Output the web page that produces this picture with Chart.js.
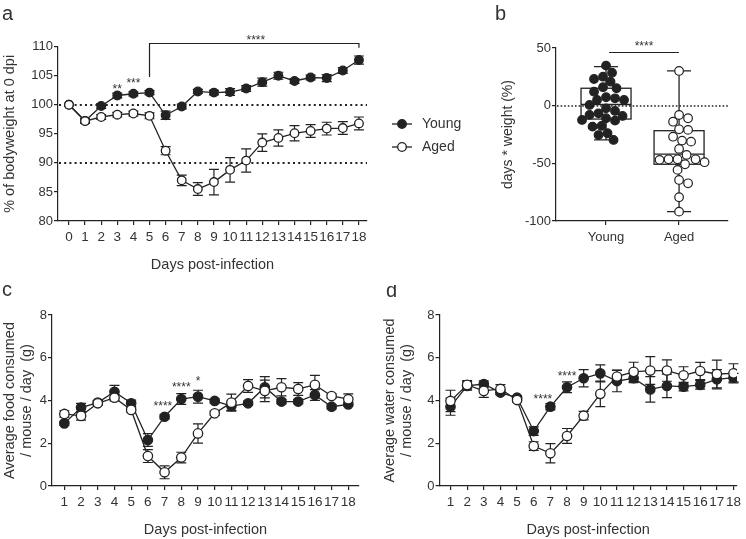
<!DOCTYPE html>
<html lang="en">
<head>
  <meta charset="UTF-8" />
  <title>Weight and intake after infection</title>
  <script src="https://cdn.jsdelivr.net/npm/chart.js"></script>
  <style>
    body { margin: 0; background: #fff; }
    .figure { position: relative; width: 746px; height: 539px; }
    .figure canvas { position: absolute; }
  </style>
</head>
<body>
  <div class="figure">
    <canvas id="weightChart" width="480" height="285" style="left:0;top:0"></canvas>
    <canvas id="aucChart" width="266" height="285" style="left:480px;top:0"></canvas>
    <canvas id="foodChart" width="380" height="254" style="left:0;top:285px"></canvas>
    <canvas id="waterChart" width="366" height="254" style="left:380px;top:285px"></canvas>
  </div>
  <script>
    const INK = '#222';
    const TEXT = '#333';
    const FONT = "'Liberation Sans', Arial, Helvetica, sans-serif";

    // panel a - body weight, % of day 0
    const weightDays = [0, 1, 2, 3, 4, 5, 6, 7, 8, 9, 10, 11, 12, 13, 14, 15, 16, 17, 18];
    const youngWeight = [100, 97.2, 99.8, 101.6, 101.9, 102.1, 98.2, 99.7, 102.3, 102.1, 102.2, 102.8, 103.9, 105.0, 104.1, 104.7, 104.6, 105.9, 107.7];
    const youngWeightSem = [0, 0.4, 0.4, 0.4, 0.35, 0.35, 0.7, 0.4, 0.35, 0.4, 0.6, 0.5, 0.7, 0.6, 0.4, 0.4, 0.6, 0.5, 0.7];
    const agedWeight = [100, 97.2, 97.9, 98.3, 98.5, 98.1, 92.1, 87.0, 85.5, 86.7, 88.8, 90.4, 93.5, 94.3, 95.1, 95.5, 95.9, 96.0, 96.8];
    const agedWeightSem = [0, 0.4, 0.4, 0.4, 0.4, 0.5, 0.7, 0.9, 1.1, 2.2, 2.1, 2.0, 1.5, 1.4, 1.3, 1.1, 1.1, 1.1, 1.1];
    const weightTicks = [80, 85, 90, 95, 100, 105, 110];
    const weightRefs = [100, 90];

    // panel b - days * weight per mouse
    const groups = ['Young', 'Aged'];
    const youngAuc = [34.7, 28.6, 25.1, 23.1, 20.8, 16, 15.1, 12.1, 7.3, 6.4, 4.9, 4.9, 0.6, -2.3, -4.6, -6.6, -8, -8.9, -10.9, -12.4, -13, -17.6, -18.2, -23.9, -25.5, -29.7];
    const agedAuc = [30.1, -8.1, -10.9, -13.9, -20.5, -21, -26.9, -30.3, -31.2, -37.5, -42.7, -46.5, -46.5, -46.5, -47, -49, -50.8, -55.7, -64.4, -67.3, -79.4, -91.9];
    const boxMin = [-29.7, -91.9];
    const boxQ1 = [-11.6, -50.8];
    const boxMedian = [1, -42.1];
    const boxQ3 = [15.1, -21.7];
    const boxMax = [33.8, 30.1];
    const aucTicks = [-100, -50, 0, 50];

    // panels c, d - intake per mouse per day
    const intakeDays = [1, 2, 3, 4, 5, 6, 7, 8, 9, 10, 11, 12, 13, 14, 15, 16, 17, 18];
    const youngFood = [2.93, 3.67, 3.9, 4.41, 3.87, 2.15, 3.24, 4.07, 4.18, 3.98, 3.74, 3.87, 4.62, 3.95, 3.95, 4.26, 3.71, 3.82];
    const youngFoodSem = [0.1, 0.2, 0.1, 0.3, 0.15, 0.3, 0.1, 0.25, 0.3, 0.1, 0.2, 0.1, 0.5, 0.1, 0.1, 0.25, 0.1, 0.1];
    const agedFood = [3.37, 3.28, 3.87, 4.13, 3.56, 1.4, 0.64, 1.33, 2.46, 3.4, 3.9, 4.68, 4.45, 4.62, 4.54, 4.73, 4.21, 4.06];
    const agedFoodSem = [0.15, 0.2, 0.1, 0.15, 0.1, 0.3, 0.3, 0.25, 0.45, 0.1, 0.4, 0.3, 0.5, 0.4, 0.3, 0.45, 0.1, 0.25];
    const youngWater = [3.71, 4.68, 4.77, 4.37, 4.13, 2.57, 3.71, 4.62, 5.04, 5.27, 4.91, 5.04, 4.52, 4.68, 4.65, 4.73, 4.99, 5.07];
    const youngWaterSem = [0.4, 0.2, 0.15, 0.1, 0.1, 0.2, 0.15, 0.25, 0.4, 0.4, 0.5, 0.2, 0.6, 0.55, 0.2, 0.2, 0.45, 0.2];
    const agedWater = [3.98, 4.73, 4.45, 4.54, 4.02, 1.87, 1.53, 2.34, 3.29, 4.31, 5.12, 5.34, 5.4, 5.4, 5.18, 5.38, 5.24, 5.27];
    const agedWaterSem = [0.5, 0.2, 0.3, 0.2, 0.1, 0.2, 0.45, 0.35, 0.2, 0.6, 0.3, 0.45, 0.65, 0.5, 0.4, 0.4, 0.65, 0.45];
    const intakeTicks = [0, 2, 4, 6, 8];

    Chart.defaults.font.family = FONT;
    Chart.defaults.color = TEXT;

    // error bars (sem) under the markers
    const errorBars = {
      id: 'errorBars',
      beforeDatasetsDraw(chart) {
        const { ctx, scales: { x, y } } = chart;
        ctx.save();
        ctx.strokeStyle = INK;
        ctx.lineWidth = 1.2;
        chart.data.datasets.forEach(ds => {
          if (!ds.errors) return;
          ds.data.forEach((p, i) => {
            const e = ds.errors[i];
            if (!e) return;
            const px = x.getPixelForValue(p.x);
            const top = y.getPixelForValue(p.y + e);
            const bot = y.getPixelForValue(p.y - e);
            ctx.beginPath();
            ctx.moveTo(px, top); ctx.lineTo(px, bot);
            ctx.moveTo(px - 5, top); ctx.lineTo(px + 5, top);
            ctx.moveTo(px - 5, bot); ctx.lineTo(px + 5, bot);
            ctx.stroke();
          });
        });
        ctx.restore();
      }
    };

    // dotted reference lines across the plot
    const refLines = {
      id: 'refLines',
      beforeDatasetsDraw(chart, args, opts) {
        if (!opts.values) return;
        const { ctx, chartArea, scales: { y } } = chart;
        ctx.save();
        ctx.strokeStyle = INK;
        ctx.lineWidth = opts.width;
        ctx.setLineDash(opts.dash);
        opts.values.forEach(v => {
          const py = Math.round(y.getPixelForValue(v));
          ctx.beginPath();
          ctx.moveTo(chartArea.left + 1, py);
          ctx.lineTo(chartArea.right, py);
          ctx.stroke();
        });
        ctx.restore();
      }
    };

    // box and whiskers for panel b
    const boxes = {
      id: 'boxes',
      beforeDatasetsDraw(chart) {
        const { ctx, scales: { x, y } } = chart;
        ctx.save();
        ctx.strokeStyle = INK;
        ctx.lineWidth = 1.3;
        groups.forEach((g, i) => {
          const cx = x.getPixelForValue(i + 1);
          const yq1 = y.getPixelForValue(boxQ1[i]);
          const yq3 = y.getPixelForValue(boxQ3[i]);
          const ymed = y.getPixelForValue(boxMedian[i]);
          const ylo = y.getPixelForValue(boxMin[i]);
          const yhi = y.getPixelForValue(boxMax[i]);
          ctx.strokeRect(cx - 25, yq3, 50, yq1 - yq3);
          ctx.beginPath();
          ctx.moveTo(cx - 25, ymed); ctx.lineTo(cx + 25, ymed);
          ctx.moveTo(cx, yq3); ctx.lineTo(cx, yhi);
          ctx.moveTo(cx, yq1); ctx.lineTo(cx, ylo);
          ctx.moveTo(cx - 12, yhi); ctx.lineTo(cx + 12, yhi);
          ctx.moveTo(cx - 12, ylo); ctx.lineTo(cx + 12, ylo);
          ctx.stroke();
        });
        ctx.restore();
      }
    };

    // significance stars, brackets, panel letter, side legend
    const notes = {
      id: 'notes',
      afterDraw(chart, args, opts) {
        const { ctx, scales: { x, y } } = chart;
        ctx.save();
        ctx.strokeStyle = INK;
        ctx.fillStyle = TEXT;
        ctx.lineWidth = 1.2;
        (opts.brackets || []).forEach(b => {
          const x1 = x.getPixelForValue(b.from), x2 = x.getPixelForValue(b.to);
          const yb = Math.round(y.getPixelForValue(b.y)) + 0.5;
          ctx.beginPath();
          ctx.moveTo(x1, y.getPixelForValue(b.leftEnd)); ctx.lineTo(x1, yb);
          ctx.lineTo(x2, yb); ctx.lineTo(x2, y.getPixelForValue(b.rightEnd));
          ctx.stroke();
        });
        ctx.font = `12px ${FONT}`;
        ctx.textAlign = 'center';
        ctx.textBaseline = 'middle';
        (opts.stars || []).forEach(s => {
          ctx.fillText(s.text, x.getPixelForValue(s.x), y.getPixelForValue(s.y) + 3);
        });
        if (opts.letter) {
          ctx.font = `20px ${FONT}`;
          ctx.textAlign = 'left';
          ctx.textBaseline = 'alphabetic';
          ctx.fillText(opts.letter.text, opts.letter.x, opts.letter.y);
        }
        if (opts.legend) {
          const L = opts.legend;
          chart.data.datasets.slice().reverse().forEach((ds, i) => {
            const ly = L.y + i * L.gap;
            ctx.lineWidth = 1.3;
            ctx.beginPath();
            ctx.moveTo(L.x, ly); ctx.lineTo(L.x + 20, ly);
            ctx.stroke();
            ctx.beginPath();
            ctx.arc(L.x + 10, ly, 4.3, 0, Math.PI * 2);
            ctx.fillStyle = ds.pointBackgroundColor;
            ctx.fill();
            ctx.stroke();
            ctx.fillStyle = TEXT;
            ctx.font = `14px ${FONT}`;
            ctx.textAlign = 'left';
            ctx.textBaseline = 'middle';
            ctx.fillText(ds.label, L.x + 30, ly);
          });
        }
        ctx.restore();
      }
    };

    function series(label, days, values, sem, fill, radius) {
      return {
        label,
        data: days.map((d, i) => ({ x: d, y: values[i] })),
        errors: sem,
        borderColor: INK,
        borderWidth: 1.3,
        pointRadius: radius,
        pointBorderWidth: 1.3,
        pointBorderColor: INK,
        pointBackgroundColor: fill,
        tension: 0
      };
    }

    function axis(extra) {
      return Object.assign({
        border: { display: true, color: INK, width: 1.2 },
        grid: { drawOnChartArea: false, drawTicks: true, tickLength: 4, color: INK, lineWidth: 1.2 }
      }, extra);
    }

    function lineChart(id, c) {
      return new Chart(document.getElementById(id), {
        type: 'line',
        data: {
          datasets: [
            series('Aged', c.days, c.aged, c.agedSem, '#fff', c.radius),
            series('Young', c.days, c.young, c.youngSem, INK, c.radius)
          ]
        },
        options: {
          responsive: false,
          animation: false,
          layout: { padding: c.padding },
          plugins: {
            legend: { display: false },
            tooltip: { enabled: false },
            refLines: { values: c.refs, width: 2, dash: [2, 3.2] },
            notes: c.notes
          },
          scales: {
            x: axis({
              type: 'linear',
              min: c.xMin,
              max: c.xMax,
              afterFit: s => { s.height = c.xHeight; },
              afterBuildTicks: s => { s.ticks = c.days.map(d => ({ value: d })); },
              ticks: { autoSkip: false, maxRotation: 0, padding: 4, font: { size: 13.5 }, color: TEXT },
              title: { display: true, text: 'Days post-infection', font: { size: 14.5 }, color: TEXT, padding: 0 }
            }),
            y: axis({
              min: c.yTicks[0],
              max: c.yTicks[c.yTicks.length - 1],
              afterFit: s => { s.width = c.yWidth; },
              afterBuildTicks: s => { s.ticks = c.yTicks.map(v => ({ value: v })); },
              ticks: { padding: 1, font: { size: 13 }, color: TEXT },
              title: { display: true, text: c.yTitle, font: { size: 14.5 }, color: TEXT, padding: { top: 1, bottom: 0 } }
            })
          }
        },
        plugins: [refLines, errorBars, notes]
      });
    }

    lineChart('weightChart', {
      days: weightDays, young: youngWeight, youngSem: youngWeightSem, aged: agedWeight, agedSem: agedWeightSem,
      radius: 4.3, refs: weightRefs, yTicks: weightTicks, yTitle: '% of bodyweight at 0 dpi',
      xMin: -0.68, xMax: 18.5, yWidth: 58, xHeight: 52.7,
      padding: { left: 0, top: 46.7, right: 113, bottom: 11.3 },
      notes: {
        letter: { text: 'a', x: 2, y: 20 },
        stars: [{ x: 3, y: 103.1, text: '**' }, { x: 4, y: 104.1, text: '***' }, { x: 11.6, y: 111.6, text: '****' }],
        brackets: [{ from: 5, to: 18, y: 110.6, leftEnd: 104.8, rightEnd: 109.8 }],
        legend: { x: 392, y: 124, gap: 23 }
      }
    });

    lineChart('foodChart', {
      days: intakeDays, young: youngFood, youngSem: youngFoodSem, aged: agedFood, agedSem: agedFoodSem,
      radius: 4.7, refs: [], yTicks: intakeTicks, yTitle: ['Average food consumed', '/ mouse / day  (g)'],
      xMin: 0.26, xMax: 18.64, yWidth: 52, xHeight: 52.7,
      padding: { left: 0, top: 30, right: 21, bottom: 0.3 },
      notes: {
        letter: { text: 'c', x: 2, y: 11 },
        stars: [{ x: 6.9, y: 3.84, text: '****' }, { x: 8, y: 4.73, text: '****' }, { x: 9, y: 5.0, text: '*' }]
      }
    });

    lineChart('waterChart', {
      days: intakeDays, young: youngWater, youngSem: youngWaterSem, aged: agedWater, agedSem: agedWaterSem,
      radius: 4.7, refs: [], yTicks: intakeTicks, yTitle: ['Average water consumed', '/ mouse / day  (g)'],
      xMin: 0.34, xMax: 18.21, yWidth: 59.5, xHeight: 52.7,
      padding: { left: 0, top: 30, right: 9, bottom: 0.3 },
      notes: {
        letter: { text: 'd', x: 6, y: 12 },
        stars: [{ x: 6.55, y: 4.18, text: '****' }, { x: 8, y: 5.24, text: '****' }]
      }
    });

    function dots(label, values, group, fill) {
      return {
        label,
        data: values.map(v => ({ x: group, y: v })),
        center: group,
        pointRadius: 4.3,
        pointBorderWidth: 1.2,
        pointBorderColor: INK,
        pointBackgroundColor: fill
      };
    }

    const aucChart = new Chart(document.getElementById('aucChart'), {
      type: 'scatter',
      data: {
        datasets: [
          dots('Aged', agedAuc, 2, '#fff'),
          dots('Young', youngAuc, 1, INK)
        ]
      },
      options: {
        responsive: false,
        animation: false,
        layout: { padding: { left: 18, top: 48, right: 18, bottom: 34 } },
        plugins: {
          legend: { display: false },
          tooltip: { enabled: false },
          refLines: { values: [0], width: 1.3, dash: [1.6, 2] },
          notes: {
            letter: { text: 'b', x: 15, y: 20 },
            stars: [{ x: 1.52, y: 53.9, text: '****' }],
            brackets: [{ from: 1.05, to: 1.99, y: 46.6, leftEnd: 46.6, rightEnd: 46.6 }]
          }
        },
        scales: {
          x: axis({
            type: 'linear',
            min: 0.315,
            max: 2.67,
            afterFit: s => { s.height = 30; },
            afterBuildTicks: s => { s.ticks = groups.map((g, i) => ({ value: i + 1 })); },
            ticks: { padding: 5, font: { size: 13 }, color: TEXT, callback: v => groups[v - 1] }
          }),
          y: axis({
            min: aucTicks[0],
            max: aucTicks[aucTicks.length - 1],
            afterFit: s => { s.width = 58; },
            afterBuildTicks: s => { s.ticks = aucTicks.map(v => ({ value: v })); },
            ticks: { padding: 1, font: { size: 13 }, color: TEXT },
            title: { display: true, text: 'days * weight (%)', font: { size: 14 }, color: TEXT, padding: { top: 1.6, bottom: 0 } }
          })
        }
      },
      plugins: [boxes, refLines, notes]
    });

    // spread the dots sideways so they do not overlap (simple beeswarm)
    function spreadDots(chart) {
      const x = chart.scales.x, y = chart.scales.y;
      const unit = x.getPixelForValue(1) - x.getPixelForValue(0);
      chart.data.datasets.forEach(ds => {
        const placed = [];
        const order = ds.data.map((p, i) => i).sort((a, b) => ds.data[b].y - ds.data[a].y);
        order.forEach(i => {
          const p = ds.data[i];
          const py = y.getPixelForValue(p.y);
          let off = 0;
          for (let k = 0; k < 80; k++) {
            const cand = (k % 2 ? 1 : -1) * Math.ceil(k / 2) * 1.5;
            if (placed.every(q => Math.hypot(cand - q.dx, py - q.py) >= 8.8)) { off = cand; break; }
          }
          placed.push({ dx: off, py });
          p.x = ds.center + off / unit;
        });
      });
      chart.update('none');
    }

    spreadDots(aucChart);
  </script>
</body>
</html>
